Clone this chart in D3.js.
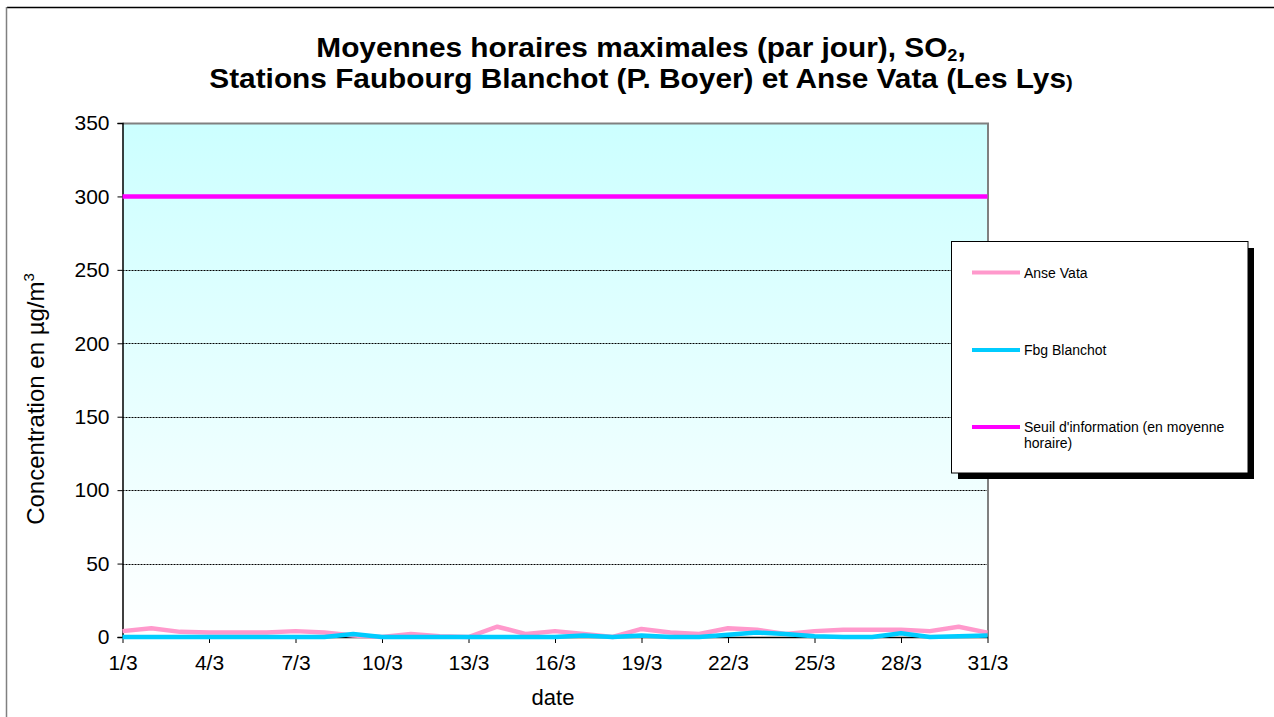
<!DOCTYPE html>
<html><head><meta charset="utf-8">
<script src="https://cdn.jsdelivr.net/npm/d3@7"></script>
<style>body{margin:0;background:#fff;} svg{display:block;font-family:"Liberation Sans",Arial,sans-serif;}</style>
</head><body><svg id="c" width="1274" height="717"></svg>
<script>
const days = d3.range(1, 32).map(d => d + "/3");
const tickLabels = ["1/3","4/3","7/3","10/3","13/3","16/3","19/3","22/3","25/3","28/3","31/3"];
const anseVata = [4,6,3.5,3,3,3,4,3,1,0,2,0.5,0,7,2,4,2,0,5.5,3,2,6,5,2,4,5,5,5,4,7,3];
const fbgBlanchot = [0,0,0,0,0,0,0,0,2,0,0,0,0,0,0,0,1,0,1,0,0,1.5,3,2,0.5,0,0,2.5,0,0.5,1];
const seuil = days.map(() => 300);
const yTicks = [0,50,100,150,200,250,300,350];
const seriesNames = ["Anse Vata","Fbg Blanchot","Seuil d'information (en moyenne horaire)"];
const seriesColors = ["#ff99cc","#00ccff","#ff00ff"];

const svg = d3.select("#c");
const L = 122.5, R = 987.5, T = 123, B = 637;
const x = d3.scalePoint().domain(days).range([L, R]);
const y = d3.scaleLinear().domain([0, 350]).range([B, T]);

// outer frame
svg.append("line").attr("x1",7).attr("x2",1274).attr("y1",7.5).attr("y2",7.5).attr("stroke","#000").attr("stroke-width",1.5);
svg.append("line").attr("x1",6.5).attr("x2",6.5).attr("y1",7).attr("y2",717).attr("stroke","#808080").attr("stroke-width",1.5);

// gradient background
const defs = svg.append("defs");
const g = defs.append("linearGradient").attr("id","bg").attr("x1",0).attr("y1",0).attr("x2",0).attr("y2",1);
g.append("stop").attr("offset","0%").attr("stop-color","#ccffff");
g.append("stop").attr("offset","100%").attr("stop-color","#ffffff");
svg.append("rect").attr("x",L).attr("y",T).attr("width",R-L).attr("height",B-T).attr("fill","url(#bg)");

// gridlines
svg.append("g").selectAll("line").data(yTicks.filter(v => v > 0 && v < 350)).join("line")
  .attr("x1",L).attr("x2",R).attr("y1",d => Math.round(y(d))+0.5).attr("y2",d => Math.round(y(d))+0.5)
  .attr("stroke","#000").attr("stroke-width",1).attr("stroke-dasharray","2,1");

// plot border (top/right gray)
svg.append("path").attr("d",`M${L},${T+0.5}H${R+0.5}V${B}`).attr("fill","none").attr("stroke","#808080").attr("stroke-width",2);

// axes
const fontFam = "Liberation Sans, Arial, sans-serif";
const yAxis = d3.axisLeft(y).tickValues(yTicks).tickSize(5).tickPadding(8);
const ya = svg.append("g").attr("transform",`translate(${L},0)`).call(yAxis);
ya.select(".domain").attr("stroke","#000").attr("stroke-width",1.5);
ya.selectAll(".tick line").attr("stroke","#000");
ya.selectAll("text").attr("font-size",21).attr("font-family",fontFam).attr("fill","#000");

const xAxis = d3.axisBottom(x).tickValues(tickLabels).tickSize(6).tickSizeOuter(0).tickPadding(12);
const xa = svg.append("g").attr("transform",`translate(0,${B})`).call(xAxis);
xa.select(".domain").attr("stroke","#000").attr("stroke-width",1.5);
xa.selectAll(".tick line").attr("stroke","#000");
xa.selectAll("text").attr("font-size",21).attr("font-family",fontFam).attr("fill","#000");

// series
const line = d3.line().x((d,i) => x(days[i])).y(d => y(d));
[anseVata, fbgBlanchot, seuil].forEach((s,i) => {
  svg.append("path").datum(s).attr("d",line).attr("fill","none")
    .attr("stroke",seriesColors[i]).attr("stroke-width",4.5).attr("stroke-linejoin","round");
});

// title
const title = svg.append("text").attr("text-anchor","middle").attr("font-weight","bold").attr("font-size",28).attr("fill","#000")
  .attr("transform","translate(641,0) scale(1.065,1)");
const t1 = title.append("tspan").attr("x",0).attr("y",57);
t1.append("tspan").text("Moyennes horaires maximales (par jour), SO");
t1.append("tspan").attr("font-size",17).attr("dy",4).text("2");
t1.append("tspan").attr("dy",-4).text(",");
const t2 = title.append("tspan").attr("x",0).attr("y",88);
t2.append("tspan").text("Stations Faubourg Blanchot (P. Boyer) et Anse Vata (Les Lys");
t2.append("tspan").attr("font-size",19).text(")");

// axis titles
svg.append("text").attr("transform",`translate(44,399) rotate(-90)`).attr("text-anchor","middle")
  .attr("font-size",24).attr("fill","#000")
  .call(t => { t.append("tspan").text("Concentration en µg/m"); t.append("tspan").attr("font-size",15).attr("dy",-10).text("3"); });
svg.append("text").attr("x",553).attr("y",705).attr("text-anchor","middle").attr("font-size",22).attr("fill","#000").text("date");

// legend
const lg = svg.append("g");
lg.append("rect").attr("x",958).attr("y",248).attr("width",296).attr("height",231).attr("fill","#000");
lg.append("rect").attr("x",951.5).attr("y",241.5).attr("width",296.5).attr("height",231.5).attr("fill","#fff").attr("stroke","#000").attr("stroke-width",1);
const ly = [272.5, 350, 427];
seriesNames.forEach((n,i) => {
  lg.append("line").attr("x1",972).attr("x2",1020).attr("y1",ly[i]).attr("y2",ly[i]).attr("stroke",seriesColors[i]).attr("stroke-width",4);
  const tx = lg.append("text").attr("x",1024).attr("y",ly[i]+5).attr("font-size",14).attr("fill","#000");
  if (i === 2) {
    tx.append("tspan").attr("x",1024).text("Seuil d'information (en moyenne");
    tx.append("tspan").attr("x",1024).attr("dy",16).text("horaire)");
  } else tx.text(n);
});
</script></body></html>
